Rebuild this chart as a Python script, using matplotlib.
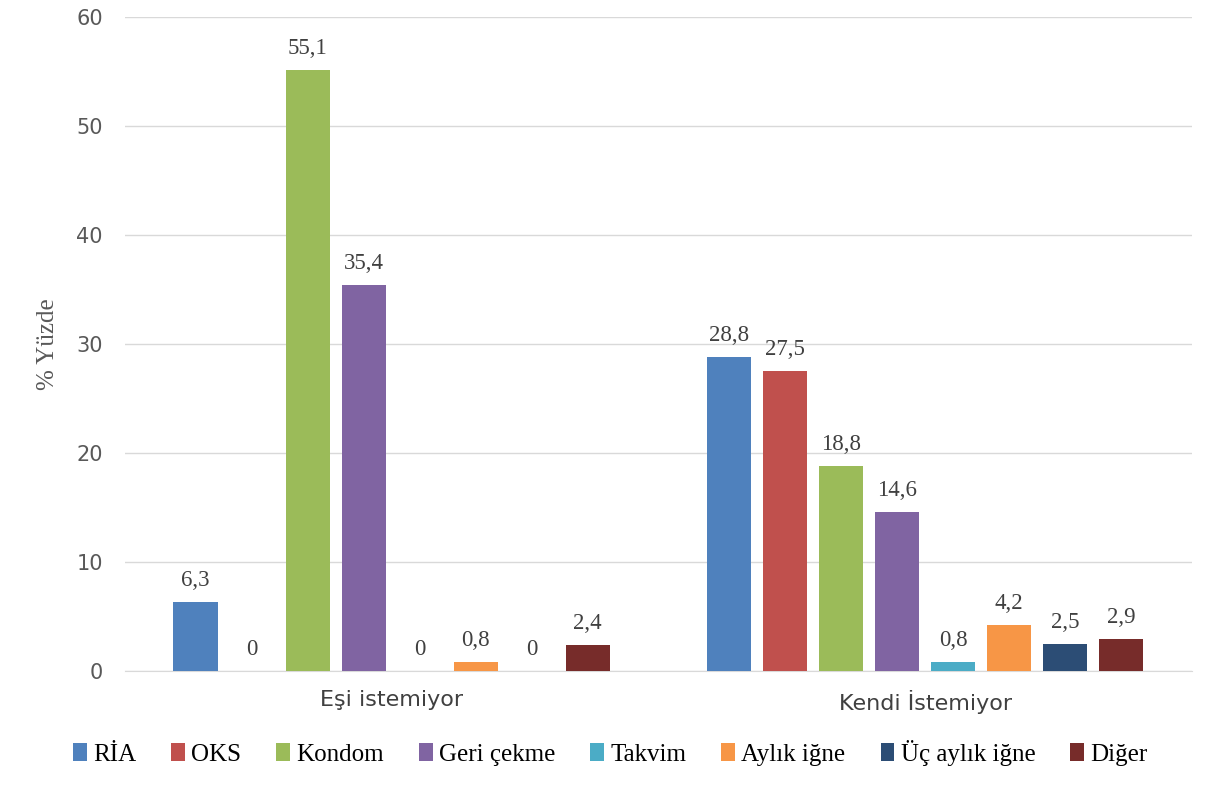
import matplotlib.pyplot as plt
import numpy as np

groups = ["Eşi istemiyor", "Kendi İstemiyor"]
methods = ["RİA", "OKS", "Kondom", "Geri çekme", "Takvim", "Aylık iğne", "Üç aylık iğne", "Diğer"]
esi = [6.3, 0, 55.1, 35.4, 0, 0.8, 0, 2.4]
kendi = [28.8, 27.5, 18.8, 14.6, 0.8, 4.2, 2.5, 2.9]
colors = ["#4F81BD", "#C0504D", "#9BBB59", "#8064A2", "#4BACC6", "#F79646", "#2C4D75", "#772C2A"]

fig = plt.figure(figsize=(12.25, 7.88), dpi=100)
ax = fig.add_axes([0.102, 0.1485, 0.871, 0.83])

x = np.arange(len(groups))
step = 0.105
w = 0.083
for i, m in enumerate(methods):
    vals = [esi[i], kendi[i]]
    pos = x + (i - 3.5) * step
    ax.bar(pos, vals, width=w, color=colors[i], label=m, zorder=3)
    for p, v in zip(pos, vals):
        txt = ("%g" % v).replace(".", ",")
        ax.text(p, v + 1.0, txt, ha="center", va="bottom", fontsize=16.5,
                family="Liberation Serif", color="#404040")

ax.set_xlim(-0.5, 1.5)
ax.set_ylim(0, 60)
ax.set_yticks(range(0, 61, 10))
ax.set_xticks(x)
ax.set_xticklabels(groups, fontsize=16, color="#404040")
ax.tick_params(axis="x", length=0, pad=14)
ax.tick_params(axis="y", length=0, pad=16, labelsize=15, labelcolor="#595959")
ax.grid(axis="y", color="#D9D9D9", linewidth=1, zorder=0)
for s in ["top", "right", "left"]:
    ax.spines[s].set_visible(False)
ax.spines["bottom"].set_color("#D9D9D9")
ax.set_ylabel("% Yüzde", fontsize=18, family="Liberation Serif", color="#595959", labelpad=12)

ax.legend(loc="center", bbox_to_anchor=(0.455, -0.125), ncol=8, frameon=False,
          prop={"family": "Liberation Serif", "size": 18}, handlelength=0.55,
          handleheight=0.7, handletextpad=0.25, columnspacing=1.4)

fig.savefig("out.png", dpi=100)
